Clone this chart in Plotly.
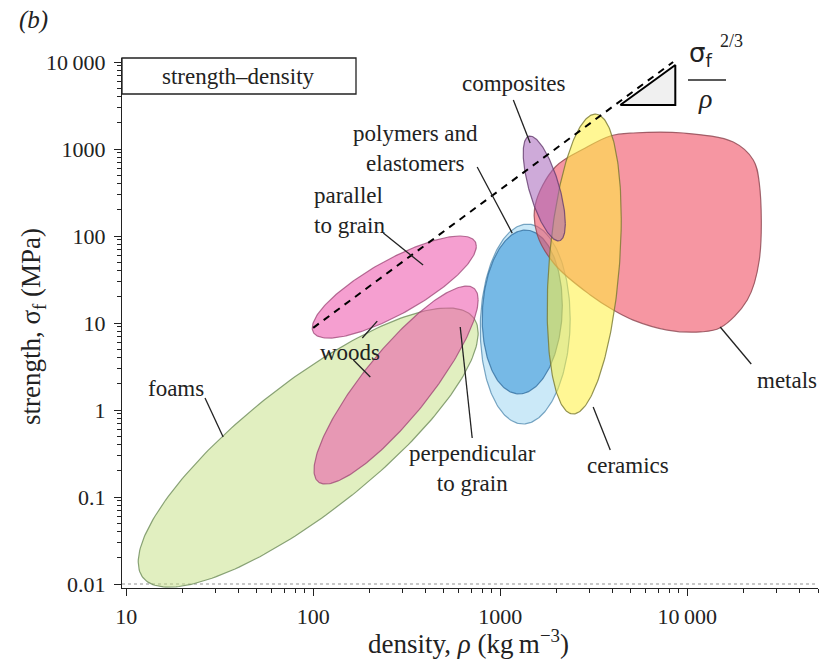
import numpy as np
import plotly.graph_objects as go

# ---------------- data ----------------
# material-family envelopes: density range (kg m^-3), strength range (MPa), tilt (correlation in log space)
families = ["foams", "woods parallel", "woods perpendicular", "elastomers", "polymers", "ceramics", "composites"]
rho_min = [11.6, 98.8, 101, 782, 801, 1783, 1327]
rho_max = [762, 745, 762, 2366, 2148, 4437, 2228]
sig_min = [0.0092, 6.7, 0.141, 0.69, 1.53, 0.9, 87.7]
sig_max = [14.9, 100, 26.6, 137, 117, 2523, 1410]
tilt = [0.82, 0.80, 0.86, 0.05, 0.08, 0.30, -0.67]

# metals envelope (irregular outline)
metals_rho = [3875, 5140, 9530, 17620, 22540, 24270, 24270, 20940, 15000, 11740, 7820, 5140, 4020,
              3030, 1968, 1578, 1538, 1968, 2850]
metals_sig = [1410, 1527, 1527, 1202, 748, 406, 53, 18.4, 8.8, 7.9, 8.3, 10.8, 14.1,
              21, 46.4, 103, 227, 621, 1026]

# guide line sigma_f^(2/3)/rho and its slope triangle
guide_rho = [100, 8400]
guide_sig = [8.8, 10000]
tri_rho = [4385, 8630, 8630, 4385]
tri_sig = [3206, 9238, 3206, 3206]

# labels: text, position (rho, sigma), alignment
labels = ["composites", "polymers and<br>elastomers", "parallel<br>to grain", "woods", "foams",
          "perpendicular<br>to grain", "ceramics", "metals"]
label_rho = [1189, 351, 98.8, 158, 18.5, 708, 4830, 34270]
label_sig = [5590, 1026, 199, 4.64, 1.79, 0.215, 0.233, 2.21]
label_align = ["center", "center", "left", "center", "center", "center", "center", "center"]

# leader lines (start rho, start sigma, end rho, end sigma)
lead_rho0 = [1175, 753, 237, 183, 164, 26.4, 708, 3875, 15000]
lead_sig0 = [3656, 621, 108, 6.73, 3.76, 1.37, 0.477, 0.347, 9.0]
lead_rho1 = [1445, 1159, 387, 220, 202, 33.0, 611, 3140, 21980]
lead_sig1 = [1172, 108, 46.4, 10.5, 2.39, 0.49, 9.0, 1.08, 3.38]

x_tickvals = [10, 100, 1000, 10000]
x_ticktext = ["10", "100", "1000", "10\u2009000"]
y_tickvals = [0.01, 0.1, 1, 10, 100, 1000, 10000]
y_ticktext = ["0.01", "0.1", "1", "10", "100", "1000", "10\u2009000"]

# ---------------- styles ----------------
FONT = "Liberation Serif, Times New Roman, serif"
fills = {
    "foams": "rgba(196,224,130,0.5)",
    "woods parallel": "rgba(236,80,170,0.55)",
    "woods perpendicular": "rgba(236,80,170,0.55)",
    "elastomers": "rgba(160,215,242,0.55)",
    "polymers": "rgba(50,145,215,0.55)",
    "ceramics": "rgba(255,240,60,0.55)",
    "composites": "rgba(165,100,185,0.55)",
}
lines = {
    "foams": "rgba(110,140,90,0.8)",
    "woods parallel": "rgba(150,60,110,0.7)",
    "woods perpendicular": "rgba(150,60,110,0.7)",
    "elastomers": "rgba(70,130,170,0.7)",
    "polymers": "rgba(40,100,150,0.7)",
    "ceramics": "rgba(120,120,50,0.8)",
    "composites": "rgba(100,60,110,0.8)",
}


def ellipse(x0, x1, y0, y1, c, n=241):
    lx0, lx1, ly0, ly1 = np.log10([x0, x1, y0, y1])
    cx, cy = (lx0 + lx1) / 2, (ly0 + ly1) / 2
    a, b = (lx1 - lx0) / 2, (ly1 - ly0) / 2
    d = np.arccos(c)
    t = np.linspace(0, 2 * np.pi, n)
    return 10 ** (cx + a * np.cos(t)), 10 ** (cy + b * np.cos(t - d))


fig = go.Figure()

# reference dotted line at 0.01
fig.add_trace(go.Scatter(x=[9.5, 50000], y=[0.01, 0.01], mode="lines",
                         line=dict(color="rgba(120,120,120,0.8)", width=1, dash="dot"),
                         hoverinfo="skip", showlegend=False))


def add_env(name):
    i = families.index(name)
    ex, ey = ellipse(rho_min[i], rho_max[i], sig_min[i], sig_max[i], tilt[i])
    fig.add_trace(go.Scatter(x=ex, y=ey, mode="lines", fill="toself", fillcolor=fills[name],
                             line=dict(color=lines[name], width=1.2), name=name,
                             hoverinfo="skip", showlegend=False))


for nm in ["foams", "woods parallel", "woods perpendicular", "elastomers", "polymers"]:
    add_env(nm)

fig.add_trace(go.Scatter(x=metals_rho + metals_rho[:1], y=metals_sig + metals_sig[:1], mode="lines",
                         line_shape="spline", fill="toself", fillcolor="rgba(240,80,100,0.6)",
                         line=dict(color="rgba(140,70,80,0.8)", width=1.2, smoothing=1.0), name="metals",
                         hoverinfo="skip", showlegend=False))

for nm in ["ceramics", "composites"]:
    add_env(nm)

# guide line
fig.add_trace(go.Scatter(x=guide_rho, y=guide_sig, mode="lines",
                         line=dict(color="black", width=2, dash="7px,6px"),
                         hoverinfo="skip", showlegend=False))
# triangle
fig.add_trace(go.Scatter(x=tri_rho, y=tri_sig, mode="lines", fill="toself", fillcolor="#f0f0f0",
                         line=dict(color="black", width=2), hoverinfo="skip", showlegend=False))

# leader lines
lx, ly = [], []
for a, b, c, d in zip(lead_rho0, lead_sig0, lead_rho1, lead_sig1):
    lx += [a, c, None]
    ly += [b, d, None]
fig.add_trace(go.Scatter(x=lx, y=ly, mode="lines", line=dict(color="#222", width=1.3),
                         hoverinfo="skip", showlegend=False))

annotations = []
for t, xr, ys, al in zip(labels, label_rho, label_sig, label_align):
    annotations.append(dict(x=np.log10(xr), y=np.log10(ys), xref="x", yref="y", text=t,
                            showarrow=False, align=al, yanchor="middle",
                            xanchor="left" if al == "left" else "center",
                            font=dict(family=FONT, size=23, color="#222")))

W, H = 835, 660
L, R, T, B = 122, 17, 58, 72
pw, ph = W - L - R, H - T - B


def px(xp):
    return (xp - L) / pw


def py(yp):
    return (H - B - yp) / ph


def pann(x, y, text, size, family=FONT, **kw):
    return dict(x=px(x), y=py(y), xref="paper", yref="paper", text=text, showarrow=False,
                xanchor="center", yanchor="middle", font=dict(family=family, size=size, color="#222"), **kw)


annotations += [
    pann(33, 20, "<i>(b)</i>", 25),
    pann(238, 76, "strength\u2013density", 23),
    dict(x=px(468), y=py(661), xref="paper", yref="paper",
         text="density, <i>ρ</i> (kg\u2009m<sup>\u22123</sup>)", showarrow=False,
         xanchor="center", yanchor="bottom", font=dict(family=FONT, size=27, color="#222")),
    pann(33, 327, "strength, σ<sub>f</sub> (MPa)", 27, textangle=-90),
    pann(700, 55, "σ<sub>f</sub>", 26, family="DejaVu Sans"),
    pann(731, 41, "2/3", 18),
    pann(705, 98, "<i>ρ</i>", 28),
]

shapes = [
    dict(type="rect", xref="paper", yref="paper", x0=0, x1=px(356), y0=py(94), y1=1.0,
         line=dict(color="#222", width=1.3), fillcolor="white", layer="above"),
    dict(type="line", xref="paper", yref="paper", x0=px(688), x1=px(726), y0=py(80), y1=py(80),
         line=dict(color="#222", width=1.5)),
]

minor_x = [k * 10 ** n for n in range(1, 5) for k in range(2, 10) if k * 10 ** n <= 50000]
minor_y = [k * 10.0 ** n for n in range(-2, 4) for k in range(2, 10)]

axis_common = dict(type="log", showgrid=False, zeroline=False, showline=True, linecolor="#222",
                   linewidth=1.3, ticks="outside", ticklen=7, tickwidth=1.2, tickcolor="#222",
                   tickfont=dict(family=FONT, size=22, color="#222"), tickmode="array")

fig.update_layout(
    width=W, height=H, margin=dict(l=L, r=R, t=T, b=B),
    plot_bgcolor="white", paper_bgcolor="white",
    font=dict(family=FONT),
    xaxis=dict(range=[np.log10(9.5), np.log10(50000)], tickvals=x_tickvals, ticktext=x_ticktext,
               ticklabelstandoff=1,
               minor=dict(tickmode="array", tickvals=minor_x, ticks="outside", ticklen=4,
                          tickcolor="#222", tickwidth=1), **axis_common),
    yaxis=dict(range=[-2.046, 4.046], tickvals=y_tickvals, ticktext=y_ticktext,
               ticklabelstandoff=4,
               minor=dict(tickmode="array", tickvals=minor_y, ticks="outside", ticklen=4,
                          tickcolor="#222", tickwidth=1), **axis_common),
    annotations=annotations, shapes=shapes, showlegend=False,
)

fig.write_html("out.html")
